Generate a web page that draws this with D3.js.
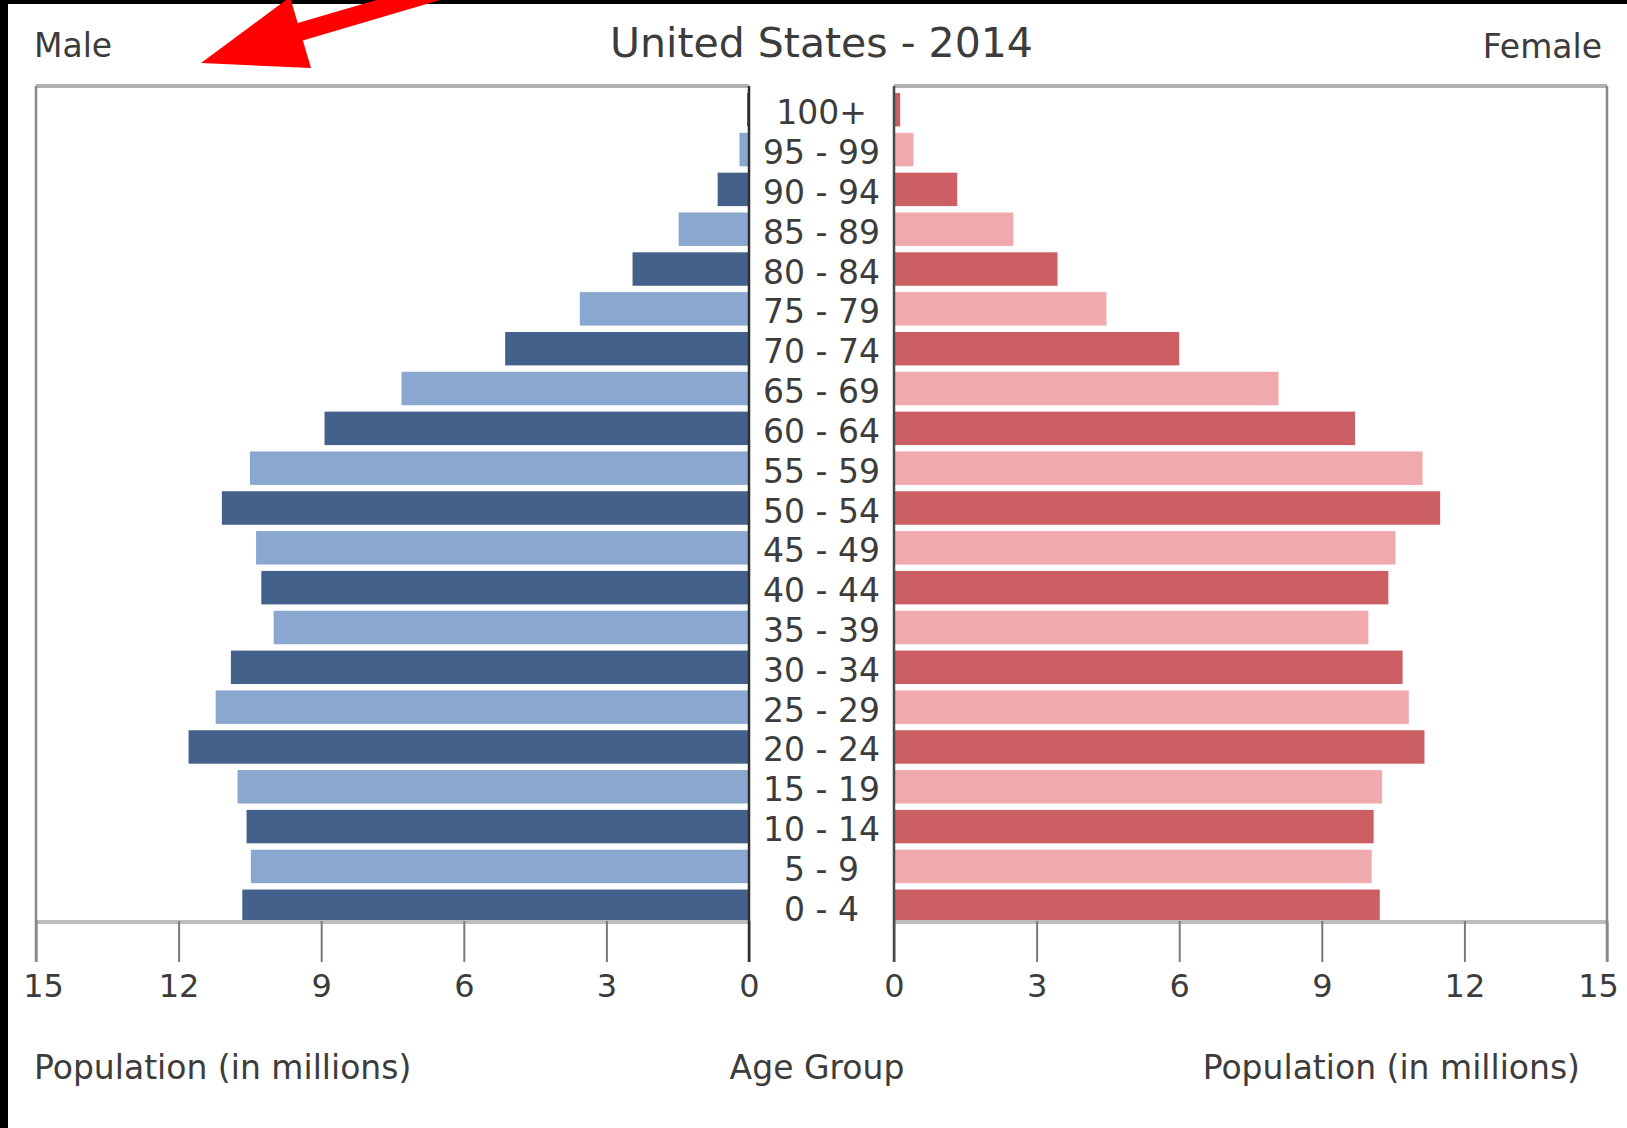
<!DOCTYPE html>
<html>
<head>
<meta charset="utf-8">
<script src="https://cdn.jsdelivr.net/npm/d3@7"></script>
<style>
  html, body { margin: 0; padding: 0; background: #fff; }
  svg { display: block; }
  text { font-family: "DejaVu Sans", sans-serif; fill: #3c3c3c; }
</style>
</head>
<body>
<div id="chart"></div>
<script>
// age groups, bottom to top
const ageGroups = ['0 - 4', '5 - 9', '10 - 14', '15 - 19', '20 - 24', '25 - 29', '30 - 34',
  '35 - 39', '40 - 44', '45 - 49', '50 - 54', '55 - 59', '60 - 64', '65 - 69', '70 - 74',
  '75 - 79', '80 - 84', '85 - 89', '90 - 94', '95 - 99', '100+'];

// population in millions, same order as ageGroups
const maleValues = [10.66, 10.48, 10.57, 10.76, 11.79, 11.22, 10.90, 10.0, 10.26, 10.37,
  11.09, 10.50, 8.93, 7.31, 5.13, 3.56, 2.45, 1.48, 0.66, 0.2, 0.04];
const femaleValues = [10.22, 10.05, 10.09, 10.27, 11.16, 10.83, 10.70, 9.98, 10.40, 10.55,
  11.49, 11.12, 9.70, 8.09, 6.0, 4.47, 3.44, 2.51, 1.33, 0.41, 0.13];

const tickValues = [0, 3, 6, 9, 12, 15];

const width = 1627;
const height = 1128;

// panel edges
const plotTop = 86;
const plotBottom = 921;
const leftPanel = [36, 749];
const rightPanel = [894, 1607];
const centerX = (leftPanel[1] + rightPanel[0]) / 2;

const colors = {
  maleDark: '#43618b',
  maleLight: '#89a7cf',
  femaleDark: '#cc5f63',
  femaleLight: '#f0a9ad',
};

const svg = d3.select('#chart')
  .append('svg')
  .attr('width', width)
  .attr('height', height);

// scales
const xMale = d3.scaleLinear().domain([15, 0]).range(leftPanel);
const xFemale = d3.scaleLinear().domain([0, 15]).range(rightPanel);
const y = d3.scaleBand()
  .domain([...ageGroups].reverse())
  .range([93, 923])
  .paddingInner(0.16)
  .paddingOuter(0);

const rows = ageGroups.map((name, i) => ({
  name,
  index: i,
  male: maleValues[i],
  female: femaleValues[i],
}));

// bars
svg.append('g')
  .selectAll('rect')
  .data(rows)
  .enter()
  .append('rect')
  .attr('x', d => xMale(d.male))
  .attr('y', d => y(d.name))
  .attr('width', d => xMale(0) - xMale(d.male))
  .attr('height', y.bandwidth())
  .attr('fill', d => d.index % 2 === 0 ? colors.maleDark : colors.maleLight);

svg.append('g')
  .selectAll('rect')
  .data(rows)
  .enter()
  .append('rect')
  .attr('x', xFemale(0))
  .attr('y', d => y(d.name))
  .attr('width', d => xFemale(d.female) - xFemale(0))
  .attr('height', y.bandwidth())
  .attr('fill', d => d.index % 2 === 0 ? colors.femaleDark : colors.femaleLight);

// frame lines: top and bottom light gray
[leftPanel, rightPanel].forEach((panel) => {
  svg.append('line')
    .attr('x1', panel[0]).attr('x2', panel[1])
    .attr('y1', plotTop).attr('y2', plotTop)
    .attr('stroke', '#b0b0b0')
    .attr('stroke-width', 4);
  svg.append('line')
    .attr('x1', panel[0]).attr('x2', panel[1])
    .attr('y1', plotBottom + 1).attr('y2', plotBottom + 1)
    .attr('stroke', '#bdbdbd')
    .attr('stroke-width', 4);
});

// bottom axes
const axisMale = d3.axisBottom(xMale)
  .tickValues(tickValues)
  .tickSize(41)
  .tickPadding(12)
  .tickFormat(d3.format('d'));
const axisFemale = d3.axisBottom(xFemale)
  .tickValues(tickValues)
  .tickSize(41)
  .tickPadding(12)
  .tickFormat(d3.format('d'));

const styleAxis = (g, endShift) => {
  g.select('.domain').remove();
  g.selectAll('.tick line')
    .attr('stroke', '#7a7a7a')
    .attr('stroke-width', 2);
  g.selectAll('.tick text')
    .style('font-size', '32px')
    .attr('fill', '#3c3c3c')
    .attr('dx', d => d === 15 ? endShift : 0);
};

svg.append('g')
  .attr('transform', `translate(0,${plotBottom})`)
  .call(axisMale)
  .call(g => styleAxis(g, 7));
svg.append('g')
  .attr('transform', `translate(0,${plotBottom})`)
  .call(axisFemale)
  .call(g => styleAxis(g, -9));

// vertical edges: outer gray, inner (zero) dark
svg.append('line')
  .attr('x1', leftPanel[0]).attr('x2', leftPanel[0])
  .attr('y1', plotTop).attr('y2', plotBottom + 41)
  .attr('stroke', '#888').attr('stroke-width', 2.5);
svg.append('line')
  .attr('x1', rightPanel[1]).attr('x2', rightPanel[1])
  .attr('y1', plotTop).attr('y2', plotBottom + 41)
  .attr('stroke', '#888').attr('stroke-width', 2.5);
svg.append('line')
  .attr('x1', leftPanel[1]).attr('x2', leftPanel[1])
  .attr('y1', plotTop).attr('y2', plotBottom + 41)
  .attr('stroke', '#2e2e2e').attr('stroke-width', 2.5);
svg.append('line')
  .attr('x1', rightPanel[0]).attr('x2', rightPanel[0])
  .attr('y1', plotTop).attr('y2', plotBottom + 41)
  .attr('stroke', '#4a4a4a').attr('stroke-width', 2.5);

// age group labels
svg.append('g')
  .selectAll('text')
  .data(rows)
  .enter()
  .append('text')
  .text(d => d.name)
  .attr('x', centerX)
  .attr('y', d => y(d.name) + y.bandwidth() / 2 + 3)
  .attr('text-anchor', 'middle')
  .attr('dominant-baseline', 'central')
  .style('font-size', '33px');

// titles
svg.append('text')
  .text('United States - 2014')
  .attr('x', centerX)
  .attr('y', 57)
  .attr('text-anchor', 'middle')
  .style('font-size', '41px');
svg.append('text')
  .text('Male')
  .attr('x', 34)
  .attr('y', 57)
  .style('font-size', '33px');
svg.append('text')
  .text('Female')
  .attr('x', 1602)
  .attr('y', 58)
  .attr('text-anchor', 'end')
  .style('font-size', '33px');

svg.append('text')
  .text('Population (in millions)')
  .attr('x', 34)
  .attr('y', 1079)
  .style('font-size', '33px');
svg.append('text')
  .text('Age Group')
  .attr('x', 817)
  .attr('y', 1079)
  .attr('text-anchor', 'middle')
  .style('font-size', '33px');
svg.append('text')
  .text('Population (in millions)')
  .attr('x', 1580)
  .attr('y', 1079)
  .attr('text-anchor', 'end')
  .style('font-size', '33px');

// black frame strips
svg.append('rect').attr('x', 0).attr('y', 0).attr('width', width).attr('height', 4).attr('fill', '#000');
svg.append('rect').attr('x', 0).attr('y', 0).attr('width', 8).attr('height', height).attr('fill', '#000');

// red annotation arrow
svg.append('line')
  .attr('x1', 296).attr('y1', 33)
  .attr('x2', 500).attr('y2', -27)
  .attr('stroke', '#ff0000')
  .attr('stroke-width', 18);
svg.append('polygon')
  .attr('points', '201,63 311,68 290,-3')
  .attr('fill', '#ff0000');
</script>
</body>
</html>
